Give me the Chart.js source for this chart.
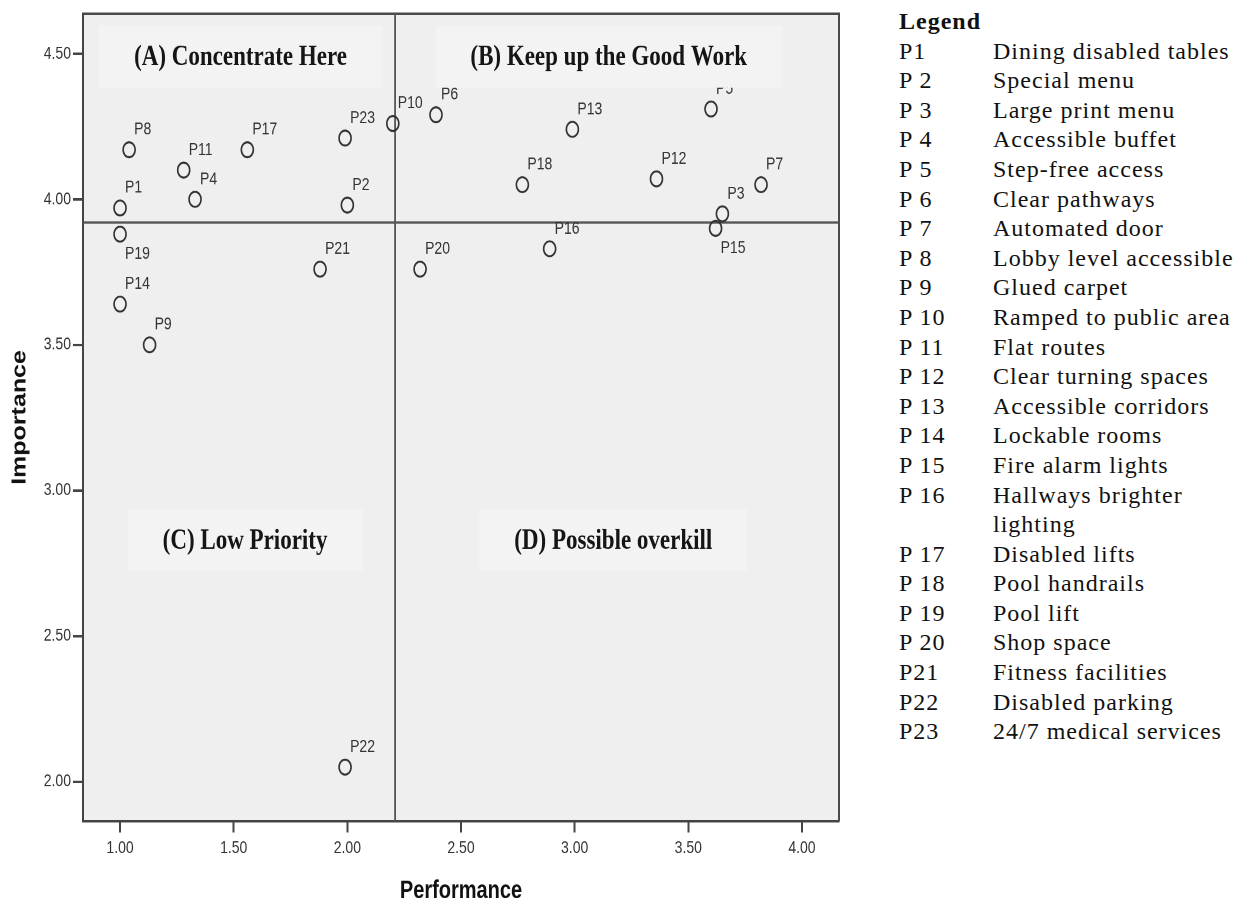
<!DOCTYPE html>
<html>
<head>
<meta charset="utf-8">
<script src="https://cdn.jsdelivr.net/npm/chart.js@4/dist/chart.umd.min.js"></script>
<style>
  body { margin: 0; background: #fff; width: 1248px; height: 904px; overflow: hidden; position: relative; }
  #chart-wrap {
    position: absolute; left: 0; top: 0;
    width: 860px; height: 723px;
    transform: scaleY(1.25); transform-origin: 0 0;
  }
  #legend {
    position: absolute; left: 899px; top: 7px;
    font-family: "Liberation Serif", "Times New Roman", serif;
    font-size: 24px; letter-spacing: 1px; color: #111;
  }
  #legend div { line-height: 29.6px; white-space: nowrap; }
  #legend .title { font-weight: bold; }
  #legend .code { display: inline-block; width: 94px; vertical-align: top; }
  #legend .desc { display: inline-block; vertical-align: top; }
</style>
</head>
<body>
<div id="chart-wrap"><canvas id="ipa"></canvas></div>
<div id="legend"></div>

<script>
// Importance-performance values
const pointNames = ['P1', 'P2', 'P3', 'P4', 'P5', 'P6', 'P7', 'P8', 'P9', 'P10', 'P11', 'P12',
  'P13', 'P14', 'P15', 'P16', 'P17', 'P18', 'P19', 'P20', 'P21', 'P22', 'P23'];
const performance = [1.00, 2.00, 3.65, 1.33, 3.60, 2.39, 3.82, 1.04, 1.13, 2.20, 1.28, 3.36,
  2.99, 1.00, 3.62, 2.89, 1.56, 2.77, 1.00, 2.32, 1.88, 1.99, 1.99];
const importance = [3.97, 3.98, 3.95, 4.00, 4.31, 4.29, 4.05, 4.17, 3.50, 4.26, 4.10, 4.07,
  4.24, 3.64, 3.90, 3.83, 4.17, 4.05, 3.88, 3.76, 3.76, 2.05, 4.21];

// axis ticks and cross-hair means
const xTicks = [1.0, 1.5, 2.0, 2.5, 3.0, 3.5, 4.0];
const yTicks = [2.0, 2.5, 3.0, 3.5, 4.0, 4.5];
const performanceMean = 2.21;
const importanceMean = 3.92;

// quadrant captions (anchored in data units)
const quadrantNames = ['(A) Concentrate Here', '(B) Keep up the Good Work', '(C) Low Priority', '(D) Possible overkill'];
const quadrantX = [1.53, 3.15, 1.55, 3.17];
const quadrantY = [4.49, 4.49, 2.83, 2.83];

// labels that sit under their marker
const labelBelow = ['P19', 'P15'];

// legend list on the right
const legendCodes = ['P1', 'P 2', 'P 3', 'P 4', 'P 5', 'P 6', 'P 7', 'P 8', 'P 9', 'P 10', 'P 11', 'P 12',
  'P 13', 'P 14', 'P 15', 'P 16', 'P 17', 'P 18', 'P 19', 'P 20', 'P21', 'P22', 'P23'];
const legendItems = ['Dining disabled tables', 'Special menu', 'Large print menu', 'Accessible buffet',
  'Step-free access', 'Clear pathways', 'Automated door', 'Lobby level accessible', 'Glued carpet',
  'Ramped to public area', 'Flat routes', 'Clear turning spaces', 'Accessible corridors', 'Lockable rooms',
  'Fire alarm lights', 'Hallways brighter<br>lighting', 'Disabled lifts', 'Pool handrails', 'Pool lift',
  'Shop space', 'Fitness facilities', 'Disabled parking', '24/7 medical services'];

document.getElementById('legend').innerHTML =
  '<div class="title">Legend</div>' +
  legendCodes.map((c, i) => `<div><span class="code">${c}</span><span class="desc">${legendItems[i]}</span></div>`).join('');

const sansFont = '"Liberation Sans", Arial, sans-serif';

// plot background, frame, mean lines, point labels and quadrant boxes
const ipaDecor = {
  id: 'ipaDecor',
  beforeDraw(chart) {
    const { ctx, chartArea: a } = chart;
    ctx.save();
    ctx.fillStyle = '#efefef';
    ctx.fillRect(a.left, a.top, a.right - a.left, a.bottom - a.top);
    ctx.restore();
  },
  beforeDatasetsDraw(chart) {
    const { ctx, chartArea: a, scales } = chart;
    ctx.save();
    ctx.strokeStyle = '#4a4a4a';
    ctx.lineWidth = 2;
    ctx.beginPath();
    ctx.moveTo(a.left, a.top);
    ctx.lineTo(a.right, a.top);
    ctx.lineTo(a.right, a.bottom);
    ctx.stroke();

    const mx = scales.x.getPixelForValue(performanceMean);
    const my = scales.y.getPixelForValue(importanceMean);
    ctx.strokeStyle = '#555';
    ctx.lineWidth = 1.8;
    ctx.beginPath();
    ctx.moveTo(mx, a.top);
    ctx.lineTo(mx, a.bottom);
    ctx.moveTo(a.left, my);
    ctx.lineTo(a.right, my);
    ctx.stroke();
    ctx.restore();
  },
  afterDatasetsDraw(chart) {
    const { ctx, scales } = chart;
    const pts = chart.getDatasetMeta(0).data;
    ctx.save();
    ctx.font = '14px ' + sansFont;
    ctx.fillStyle = '#333';
    ctx.textAlign = 'left';
    ctx.textBaseline = 'middle';
    pts.forEach((p, i) => {
      const name = pointNames[i];
      const dy = labelBelow.includes(name) ? 16 : -16;
      ctx.fillText(name, p.x + 5, p.y + dy);
    });

    ctx.font = 'bold 23px "Liberation Serif", "Times New Roman", serif';
    ctx.textAlign = 'center';
    quadrantNames.forEach((q, i) => {
      const cx = scales.x.getPixelForValue(quadrantX[i]);
      const cy = scales.y.getPixelForValue(quadrantY[i]);
      const w = ctx.measureText(q).width + 70;
      ctx.fillStyle = '#f3f3f3';
      ctx.fillRect(cx - w / 2, cy - 25, w, 50);
      ctx.fillStyle = '#151515';
      ctx.fillText(q, cx, cy + 1);
    });
    ctx.restore();
  }
};

new Chart(document.getElementById('ipa'), {
  type: 'scatter',
  data: {
    datasets: [{
      data: performance.map((v, i) => ({ x: v, y: importance[i] })),
      pointStyle: 'circle',
      pointRadius: 6,
      pointBorderWidth: 1.6,
      pointBorderColor: '#333',
      pointBackgroundColor: 'rgba(0,0,0,0)'
    }]
  },
  options: {
    responsive: true,
    maintainAspectRatio: false,
    animation: false,
    devicePixelRatio: 2,
    layout: { padding: { top: 11, right: 21, left: 0, bottom: 0 } },
    plugins: { legend: { display: false }, tooltip: { enabled: false } },
    scales: {
      x: {
        type: 'linear',
        min: 0.837,
        max: 4.163,
        afterBuildTicks: (s) => { s.ticks = xTicks.map(v => ({ value: v })); },
        afterFit: (s) => { s.height = 66; },
        ticks: {
          callback: (v) => Number(v).toFixed(2),
          font: { family: sansFont, size: 14 },
          color: '#333',
          padding: 4,
          maxRotation: 0
        },
        grid: { drawOnChartArea: false, drawTicks: true, tickLength: 9, tickWidth: 2, tickColor: '#444' },
        border: { display: true, color: '#444', width: 2 },
        title: {
          display: true,
          text: 'Performance',
          font: { family: sansFont, size: 20, weight: 'bold', lineHeight: 1 },
          color: '#111',
          padding: { top: 0, bottom: 0 }
        }
      },
      y: {
        type: 'linear',
        min: 1.864,
        max: 4.637,
        afterBuildTicks: (s) => { s.ticks = yTicks.map(v => ({ value: v })); },
        afterFit: (s) => { s.width = 83; },
        ticks: {
          callback: (v) => Number(v).toFixed(2),
          font: { family: sansFont, size: 14 },
          color: '#333',
          padding: 2
        },
        grid: { drawOnChartArea: false, drawTicks: true, tickLength: 10, tickWidth: 2, tickColor: '#444' },
        border: { display: true, color: '#444', width: 2 },
        title: {
          display: true,
          text: 'Importance',
          font: { family: sansFont, size: 20, weight: 'bold', lineHeight: 1 },
          color: '#111',
          padding: { top: 10, bottom: 0 }
        }
      }
    }
  },
  plugins: [ipaDecor]
});
</script>
</body>
</html>
